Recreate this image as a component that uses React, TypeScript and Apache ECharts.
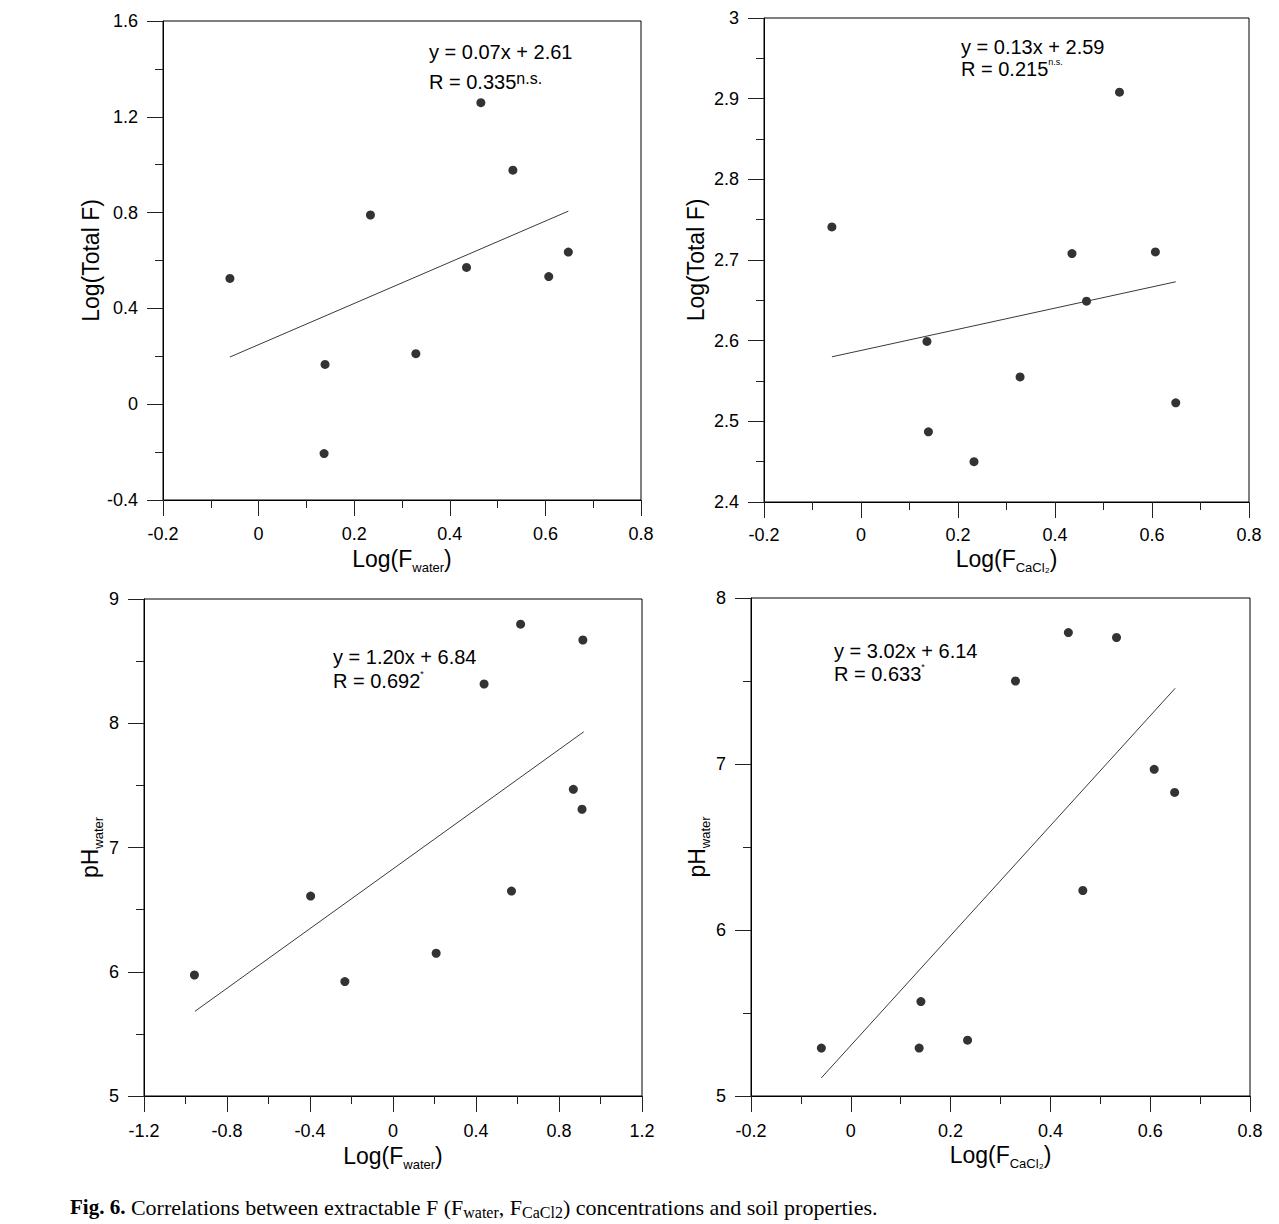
import React, { useEffect, useRef } from "react";
import * as echarts from "echarts";

// ---------- data ----------
const P1_X = [-0.06, 0.139, 0.137, 0.234, 0.329, 0.435, 0.465, 0.532, 0.607, 0.648];
const P1_Y = [0.525, 0.166, -0.206, 0.79, 0.211, 0.571, 1.259, 0.977, 0.533, 0.635];
const P1_FIT_X = [-0.06, 0.648];
const P1_FIT_Y = [0.197, 0.806];

const P2_X = [-0.06, 0.136, 0.139, 0.233, 0.328, 0.435, 0.465, 0.533, 0.607, 0.649];
const P2_Y = [2.741, 2.599, 2.487, 2.45, 2.555, 2.708, 2.649, 2.908, 2.71, 2.523];
const P2_FIT_X = [-0.06, 0.649];
const P2_FIT_Y = [2.58, 2.673];

const P3_X = [-0.957, -0.397, -0.232, 0.208, 0.439, 0.571, 0.615, 0.869, 0.911, 0.915];
const P3_Y = [5.974, 6.609, 5.921, 6.149, 8.316, 6.649, 8.797, 7.468, 7.308, 8.67];
const P3_FIT_X = [-0.955, 0.919];
const P3_FIT_Y = [5.681, 7.931];

const P4_X = [-0.059, 0.137, 0.1405, 0.234, 0.33, 0.436, 0.465, 0.5325, 0.608, 0.649];
const P4_Y = [5.289, 5.289, 5.569, 5.336, 7.5, 7.792, 6.238, 7.762, 6.968, 6.829];
const P4_FIT_X = [-0.059, 0.65];
const P4_FIT_Y = [5.109, 7.456];

const EQUATIONS = ["y = 0.07x + 2.61", "y = 0.13x + 2.59", "y = 1.20x + 6.84", "y = 3.02x + 6.14"];
const R_VALUES = ["R = 0.335", "R = 0.215", "R = 0.692", "R = 0.633"];
const R_MARKS = ["n.s.", "n.s.", "*", "*"];

const X_RANGES = [
  [-0.2, 0.8, 0.2],
  [-0.2, 0.8, 0.2],
  [-1.2, 1.2, 0.4],
  [-0.2, 0.8, 0.2],
];
const Y_RANGES = [
  [-0.4, 1.6, 0.4],
  [2.4, 3.0, 0.1],
  [5, 9, 1],
  [5, 8, 1],
];

const CAPTION_BOLD = "Fig. 6.";
const CAPTION_TEXT = " Correlations between extractable F (F";

const FONT = "'Liberation Sans', Arial, sans-serif";
const SERIF = "'Liberation Serif', 'Times New Roman', serif";

const fmt = (v: number) => String(Number(v.toFixed(2)));

const zip = (xs: number[], ys: number[]) => xs.map((x, i) => [x, ys[i]]);

const GRIDS = [
  { left: 163, top: 21, width: 478, height: 479 },
  { left: 764, top: 18, width: 485, height: 484 },
  { left: 144, top: 599, width: 498, height: 497 },
  { left: 751, top: 598, width: 499, height: 498 },
];
const Y_LABEL_MARGIN = [25, 25, 25, 25];
const X_LABEL_MARGIN = [34, 33, 35, 35];
const X_NAME_GAP = [59, 57, 60, 59];
const Y_NAME_GAP = [72, 68, 42, 49];

const X_NAMES = [
  "{m|Log(F}{s|water}{m|)}",
  "{m|Log(F}{s|CaCl₂}{m|)}",
  "{m|Log(F}{s|water}{m|)}",
  "{m|Log(F}{s|CaCl₂}{m|)}",
];
const Y_NAMES = ["{m|Log(Total F)}", "{m|Log(Total F)}", "{m|pH}{s|water}", "{m|pH}{s|water}"];

const nameRich = {
  m: { fontSize: 23, fontFamily: FONT, color: "#000", lineHeight: 30 },
  s: { fontSize: 13, fontFamily: FONT, color: "#000", lineHeight: 11, verticalAlign: "bottom" },
};

const ANNOT = [
  { x: 429, y1: 52, y2: 82, supSize: 16 },
  { x: 961, y1: 47, y2: 69, supSize: 9 },
  { x: 333, y1: 657, y2: 681, supSize: 9 },
  { x: 834, y1: 651, y2: 674, supSize: 9 },
];

export default function App() {
  const ref = useRef<HTMLDivElement>(null);
  useEffect(() => {
    document.body.style.margin = "0";
    if (!ref.current) return;
    const chart = echarts.init(ref.current, undefined, { renderer: "svg" });

    const axisCommon = {
      axisLine: { show: true, onZero: false, lineStyle: { color: "#000", width: 1 } },
      axisTick: { show: true, inside: false, length: 16, lineStyle: { color: "#222", width: 1 } },
      minorTick: { show: true, splitNumber: 2, length: 8, lineStyle: { color: "#222", width: 1 } },
      splitLine: { show: false },
      minorSplitLine: { show: false },
    };

    const xAxis = X_RANGES.map((r, i) => ({
      type: "value",
      gridIndex: i,
      min: r[0],
      max: r[1],
      interval: r[2],
      ...axisCommon,
      axisLabel: {
        formatter: fmt,
        margin: X_LABEL_MARGIN[i],
        fontSize: 18,
        fontFamily: FONT,
        color: "#000",
        verticalAlign: "middle",
        showMinLabel: true,
        showMaxLabel: true,
      },
      name: X_NAMES[i],
      nameLocation: "middle",
      nameGap: X_NAME_GAP[i],
      nameTextStyle: { rich: nameRich, verticalAlign: "middle" },
    }));

    const yAxis = Y_RANGES.map((r, i) => ({
      type: "value",
      gridIndex: i,
      min: r[0],
      max: r[1],
      interval: r[2],
      ...axisCommon,
      axisLabel: {
        formatter: fmt,
        margin: Y_LABEL_MARGIN[i],
        fontSize: 18,
        fontFamily: FONT,
        color: "#000",
        showMinLabel: true,
        showMaxLabel: true,
      },
      name: Y_NAMES[i],
      nameLocation: "middle",
      nameRotate: 90,
      nameGap: Y_NAME_GAP[i],
      nameTextStyle: { rich: nameRich, verticalAlign: "middle" },
    }));

    const pts = [zip(P1_X, P1_Y), zip(P2_X, P2_Y), zip(P3_X, P3_Y), zip(P4_X, P4_Y)];
    const fits = [
      zip(P1_FIT_X, P1_FIT_Y),
      zip(P2_FIT_X, P2_FIT_Y),
      zip(P3_FIT_X, P3_FIT_Y),
      zip(P4_FIT_X, P4_FIT_Y),
    ];

    const series: any[] = [];
    for (let i = 0; i < 4; i++) {
      series.push({
        type: "line",
        xAxisIndex: i,
        yAxisIndex: i,
        data: fits[i],
        symbol: "none",
        silent: true,
        lineStyle: { color: "#3a3a3a", width: 1 },
      });
      series.push({
        type: "scatter",
        xAxisIndex: i,
        yAxisIndex: i,
        data: pts[i],
        symbol: "circle",
        symbolSize: 9,
        itemStyle: { color: "#000" },
      });
    }

    const graphics: any[] = [];
    ANNOT.forEach((a, i) => {
      graphics.push({
        type: "text",
        x: a.x,
        y: a.y1,
        style: {
          text: EQUATIONS[i],
          fontSize: 20,
          fontFamily: FONT,
          fill: "#000",
          verticalAlign: "middle",
          align: "left",
        },
      });
      graphics.push({
        type: "text",
        x: a.x,
        y: a.y2,
        style: {
          text: `{m|${R_VALUES[i]}}{u|${R_MARKS[i]}}`,
          verticalAlign: "middle",
          align: "left",
          rich: {
            m: { fontSize: 20, fontFamily: FONT, color: "#000", lineHeight: 24 },
            u: {
              fontSize: a.supSize,
              fontFamily: FONT,
              color: "#000",
              lineHeight: a.supSize + 2,
              verticalAlign: "top",
            },
          },
        },
      });
    });

    graphics.push({
      type: "text",
      x: 70,
      y: 1207,
      style: {
        text:
          `{b|${CAPTION_BOLD}}{n|${CAPTION_TEXT}}{s|water}{n|, F}{s|CaCl2}{n|) concentrations and soil properties.}`,
        verticalAlign: "middle",
        align: "left",
        rich: {
          b: { fontSize: 21, fontFamily: SERIF, fontWeight: "bold", color: "#000", lineHeight: 26 },
          n: { fontSize: 22, fontFamily: SERIF, color: "#000", lineHeight: 26 },
          s: { fontSize: 16, fontFamily: SERIF, color: "#000", lineHeight: 12, verticalAlign: "bottom" },
        },
      },
    });

    chart.setOption({
      animation: false,
      backgroundColor: "#fff",
      grid: GRIDS.map((g) => ({
        ...g,
        show: true,
        borderColor: "#000",
        borderWidth: 1,
        backgroundColor: "transparent",
        containLabel: false,
      })),
      xAxis,
      yAxis,
      series,
      graphic: graphics,
    });

    return () => chart.dispose();
  }, []);

  return <div ref={ref} style={{ width: 1279, height: 1224 }} />;
}
